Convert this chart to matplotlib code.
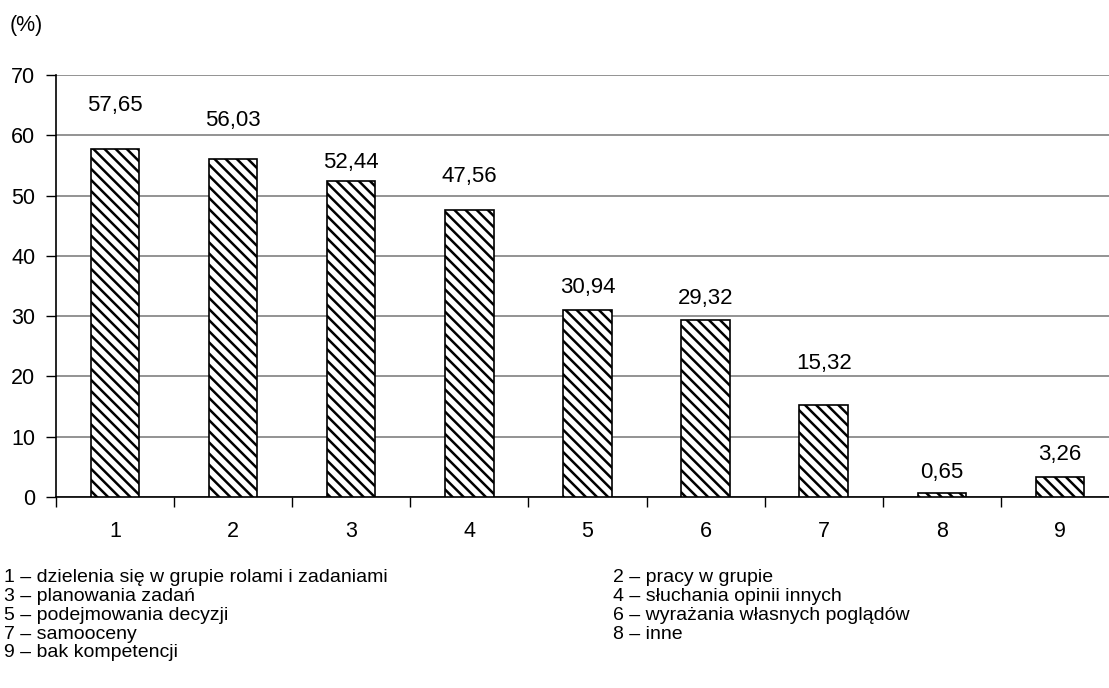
import numpy as np
import matplotlib
matplotlib.use("Agg")
import matplotlib.pyplot as plt

plt.rcParams['font.family'] = ['Liberation Sans', 'DejaVu Sans']
plt.rcParams['hatch.linewidth'] = 1.8

categories = ['1', '2', '3', '4', '5', '6', '7', '8', '9']
values = [57.65, 56.03, 52.44, 47.56, 30.94, 29.32, 15.32, 0.65, 3.26]
value_labels = ['57,65', '56,03', '52,44', '47,56', '30,94', '29,32', '15,32', '0,65', '3,26']
# heights where the value labels sit (the original places them unevenly)
label_heights = [65.0, 62.5, 55.5, 53.2, 34.7, 33.0, 22.2, 4.1, 7.0]

legend_left = ['1 – dzielenia się w grupie rolami i zadaniami',
               '3 – planowania zadań',
               '5 – podejmowania decyzji',
               '7 – samooceny',
               '9 – bak kompetencji']
legend_right = ['2 – pracy w grupie',
                '4 – słuchania opinii innych',
                '6 – wyrażania własnych poglądów',
                '8 – inne']

fig = plt.figure(figsize=(11.09, 6.88), dpi=100)
ax = fig.add_axes([0.0505, 0.2776, 0.9585, 0.6134])

x = np.arange(len(categories))
ax.bar(x, values, width=0.41, color='white', edgecolor='black',
       linewidth=1.2, hatch='\\\\\\', zorder=3)

for xi, lab, h in zip(x, value_labels, label_heights):
    ax.text(xi, h, lab, ha='center', va='center', fontsize=16, zorder=4)

ax.set_ylim(0, 70)
ax.set_xlim(-0.5, len(categories) - 0.5)
ax.set_yticks(range(0, 71, 10))
ax.yaxis.grid(True, color='#808080', linewidth=1.2, zorder=0)

ax.set_xticks(np.arange(-0.5, len(categories), 1.0))
ax.set_xticklabels([])
ax.set_xticks(x, minor=True)
ax.set_xticklabels(categories, minor=True)
ax.tick_params(axis='x', which='major', length=7, width=1, direction='out')
ax.tick_params(axis='x', which='minor', length=0, pad=17, labelsize=15.5)
ax.tick_params(axis='y', length=7, width=1, pad=8, labelsize=15.5)

for side in ['top', 'right']:
    ax.spines[side].set_visible(False)
ax.spines['left'].set_linewidth(1.2)
ax.spines['bottom'].set_linewidth(1.2)

fig.text(0.009, 0.963, '(%)', fontsize=15.5, va='center', ha='left')

for i, line in enumerate(legend_left):
    fig.text(0.004, 1 - (578 + i * 18.7) / 688, line, fontsize=14, va='center', ha='left')
for i, line in enumerate(legend_right):
    fig.text(0.553, 1 - (578 + i * 18.7) / 688, line, fontsize=14, va='center', ha='left')

fig.savefig('out.png', dpi=100)
